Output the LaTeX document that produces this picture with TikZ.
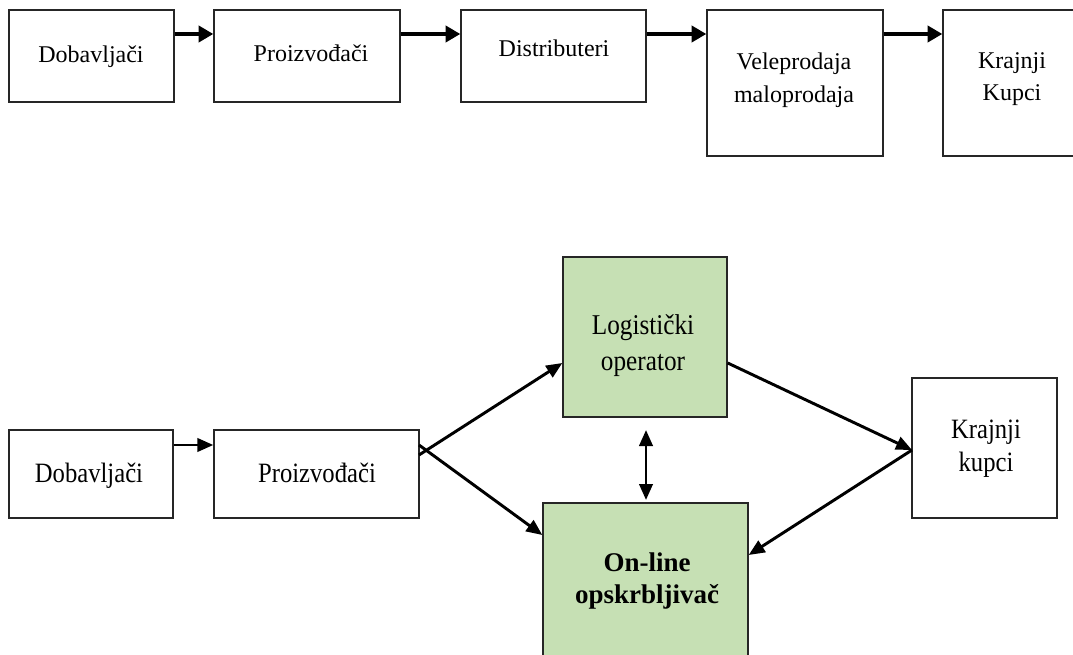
\documentclass[tikz,border=0pt]{standalone}
\usepackage{fontspec}
\setmainfont{Liberation Serif}
\newfontfamily\narrowserif[FakeStretch=0.88]{Liberation Serif}
\usetikzlibrary{arrows.meta,fit}
\definecolor{boxgreen}{RGB}{198,224,180}
\tikzset{
  box/.style={draw=black!85, line width=1pt, inner sep=0pt, rectangle},
  greenbox/.style={box, fill=boxgreen},
  txt/.style={font=\fontsize{18}{24.5}\selectfont, align=center, inner sep=0pt},
  wtxt/.style={font=\narrowserif\fontsize{21}{25}\selectfont, align=center, inner sep=0pt},
  flowarrow/.style={line width=3.4pt, -{Triangle[length=11pt,width=12pt]}},
  linkarrow/.style={line width=2.2pt, -{Triangle[length=12pt,width=10pt]}},
  twoway/.style={line width=2.2pt, {Triangle[length=12pt,width=10pt]}-{Triangle[length=12pt,width=10pt]}},
}
\begin{document}
\begin{tikzpicture}[x=0.75pt,y=-0.75pt]
  \clip (0,0) rectangle (1073,655);
  \fill[white] (0,0) rectangle (1073,655);

  % ---- linear supply chain ----
  \node[box, fit={(9,10) (174,102)}]   (dob1) {};
  \node[box, fit={(214,10) (400,102)}] (pro1) {};
  \node[box, fit={(461,10) (646,102)}] (dis1) {};
  \node[box, fit={(707,10) (883,156)}] (vel1) {};
  \node[box, fit={(943,10) (1080,156)}] (kra1) {};

  \node[txt] (tdob1) at (91,57)   {Dobavljači};
  \node[txt] (tpro1) at (311,53)  {Proizvođači};
  \node[txt] (tdis1) at (554,48)  {Distributeri};
  \node[txt] (tvel1) at (794,80)  {Veleprodaja\\maloprodaja};
  \node[txt] (tkra1) at (1012,79) {Krajnji\\Kupci};

  \draw[flowarrow] (dob1.east |- 0,34) -- (pro1.west |- 0,34);
  \draw[flowarrow] (pro1.east |- 0,34) -- (dis1.west |- 0,34);
  \draw[flowarrow] (dis1.east |- 0,34) -- (vel1.west |- 0,34);
  \draw[flowarrow] (vel1.east |- 0,34) -- (kra1.west |- 0,34);

  % ---- e-commerce supply chain ----
  \node[box, fit={(9,430) (173,518)}]        (dob2) {};
  \node[box, fit={(214,430) (419,518)}]      (pro2) {};
  \node[greenbox, fit={(563,257) (727,417)}] (log)  {};
  \node[greenbox, fit={(543,503) (748,670)}] (onl)  {};
  \node[box, fit={(912,378) (1057,518)}]     (kra2) {};

  \node[wtxt] (tdob2) at (89,476)  {Dobavljači};
  \node[wtxt] (tpro2) at (317,472.5) {Proizvođači};
  \node[wtxt, font=\narrowserif\fontsize{21.5}{27}\selectfont] (tlog) at (643,346) {Logistički\\operator};
  \node[txt, font=\fontsize{20.25}{24.5}\bfseries\selectfont] (tonl) at (647,581) {On-line\\opskrbljivač};
  \node[wtxt] (tkra2) at (986,449) {Krajnji\\kupci};

  \coordinate (pA) at (419,455);
  \coordinate (pB) at (419,445);
  \coordinate (kIn) at (912,450);

  \draw[linkarrow] (dob2.east |- 0,445) -- (pro2.west |- 0,445);
  \draw[linkarrow] (pA) -- (log.west |- 0,363);
  \draw[linkarrow] (pB) -- (onl.west |- 0,535);
  \draw[linkarrow] (log.east |- 0,363) -- (kIn);
  \draw[linkarrow] (kIn) -- (onl.east |- 0,555);
  \draw[twoway] (646,430) -- (646,500);
\end{tikzpicture}
\end{document}
